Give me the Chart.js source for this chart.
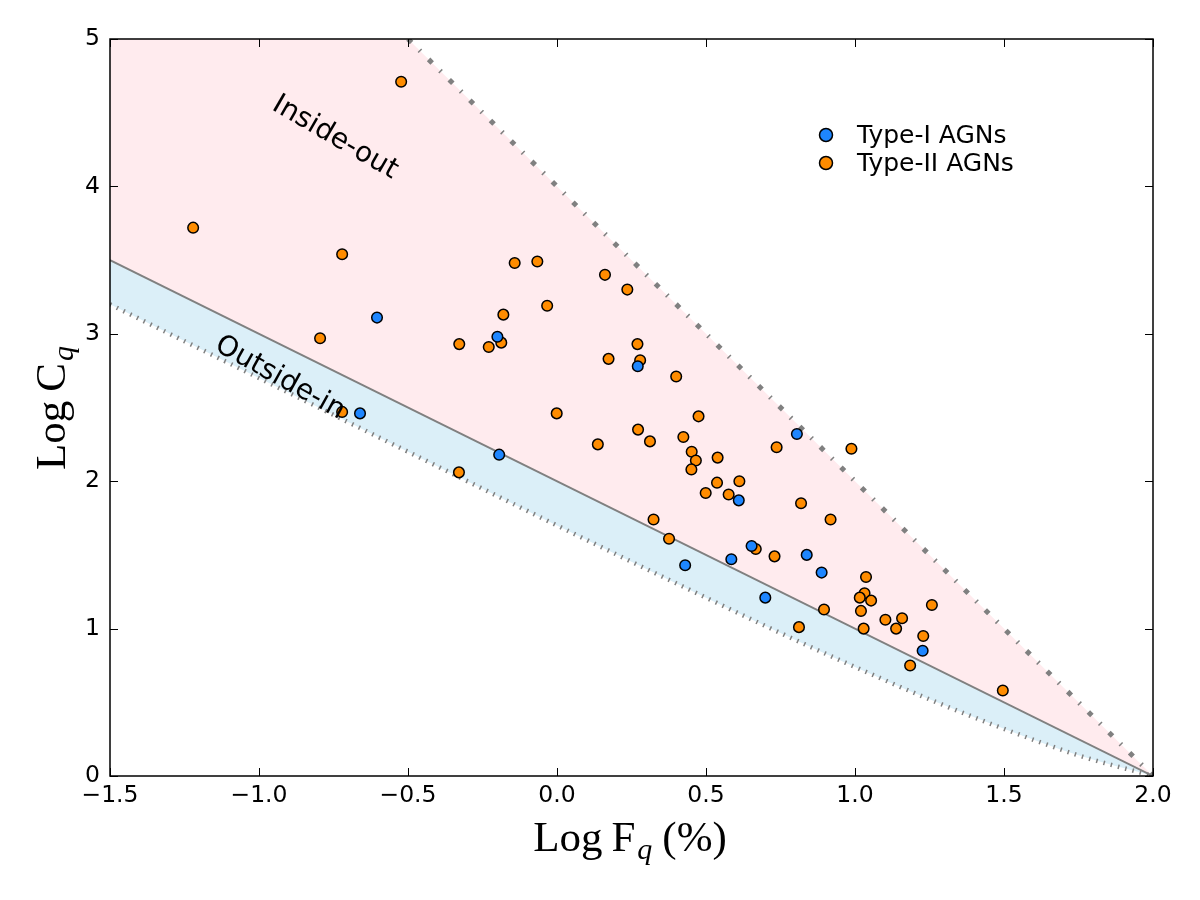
<!DOCTYPE html>
<html>
<head>
<meta charset="utf-8">
<script src="https://cdn.jsdelivr.net/npm/chart.js@4.4.1/dist/chart.umd.min.js"></script>
<style>
  html, body { margin: 0; padding: 0; background: #fff; }
</style>
</head>
<body>
<canvas id="agn_chart" width="1200" height="900"></canvas>
<script>
// Type-I AGNs
const typeI_logF = [-0.604, -0.661, -0.200, 0.271, -0.194, 0.610, 0.430, 0.585, 0.805, 0.653, 0.838, 0.888, 0.699, 1.227];
const typeI_logC = [3.11, 2.46, 2.98, 2.78, 2.18, 1.87, 1.43, 1.47, 2.32, 1.56, 1.50, 1.38, 1.21, 0.85];

// Type-II AGNs
const typeII_logF = [-0.523, -1.221, -0.721, -0.795, -0.721, -0.329, -0.328, -0.142, -0.066, 0.161,
  0.236, -0.033, -0.180, -0.187, -0.229, 0.270, 0.173, 0.279, 0.400, -0.001,
  0.475, 0.272, 0.312, 0.137, 0.424, 0.452, 0.539, 0.466, 0.451, 0.537,
  0.499, 0.576, 0.612, 0.324, 0.376, 0.737, 0.988, 0.819, 0.918, 0.667,
  0.730, 1.037, 1.032, 1.016, 1.054, 0.896, 1.020, 1.258, 1.102, 1.158,
  1.138, 1.029, 0.812, 1.229, 1.185, 1.496];
const typeII_logC = [4.71, 3.72, 3.54, 2.97, 2.47, 2.06, 2.93, 3.48, 3.49, 3.40,
  3.30, 3.19, 3.13, 2.94, 2.91, 2.93, 2.83, 2.82, 2.71, 2.46,
  2.44, 2.35, 2.27, 2.25, 2.30, 2.20, 2.16, 2.14, 2.08, 1.99,
  1.92, 1.91, 2.00, 1.74, 1.61, 2.23, 2.22, 1.85, 1.74, 1.54,
  1.49, 1.35, 1.24, 1.21, 1.19, 1.13, 1.12, 1.16, 1.06, 1.07,
  1.00, 1.00, 1.01, 0.95, 0.75, 0.58];

// boundary lines
const solid_logF = [-1.5, 2.0];
const solid_logC = [3.5, 0.0];
const dashdot_logF = [-0.5, 2.0];
const dashdot_logC = [5.0, 0.0];
const dotted_logF = [-1.5, -1.0, -0.5, 0.0, 0.5, 0.75, 1.0, 1.25, 1.5, 1.75, 2.0];
const dotted_logC = [3.20, 2.70, 2.20, 1.70, 1.21, 0.97, 0.74, 0.52, 0.32, 0.14, 0.0];
const top_logF = [-1.5, -0.5, 2.0];
const top_logC = [5.0, 5.0, 0.0];

const xTicks = [-1.5, -1.0, -0.5, 0.0, 0.5, 1.0, 1.5, 2.0];
const yTicks = [0, 1, 2, 3, 4, 5];

const legendLabels = ['Type-I AGNs', 'Type-II AGNs'];
const blue = '#1e86ff';
const orange = '#ff8c00';

function pts(xs, ys) {
  return xs.map((v, i) => ({ x: v, y: ys[i] }));
}

function fmt(v, digits) {
  return v.toFixed(digits).replace('-', '\u2212');
}

// draw a run of text pieces, e.g. Log C_q
function drawRich(ctx, parts, x, y, align) {
  let total = 0;
  parts.forEach(p => { ctx.font = p.font; total += ctx.measureText(p.text).width + (p.gap || 0); });
  let cx = align === 'center' ? x - total / 2 : x;
  parts.forEach(p => {
    ctx.font = p.font;
    ctx.fillText(p.text, cx, y + (p.dy || 0));
    cx += ctx.measureText(p.text).width + (p.gap || 0);
  });
}

const framePlugin = {
  id: 'framePlugin',
  afterDatasetsDraw(chart) {
    const { ctx, chartArea: a, scales: { x, y } } = chart;
    ctx.save();

    // region labels
    ctx.fillStyle = '#000';
    ctx.font = '28px "DejaVu Sans"';
    ctx.textAlign = 'center';
    ctx.textBaseline = 'middle';
    ctx.save();
    ctx.translate(x.getPixelForValue(-0.745), y.getPixelForValue(4.33));
    ctx.rotate(30 * Math.PI / 180);
    ctx.fillText('Inside-out', 0, 0);
    ctx.restore();
    ctx.save();
    ctx.translate(x.getPixelForValue(-0.93), y.getPixelForValue(2.70));
    ctx.rotate(29 * Math.PI / 180);
    ctx.fillText('Outside-in', 0, 0);
    ctx.restore();

    // frame
    ctx.strokeStyle = '#000';
    ctx.lineWidth = 1.5;
    ctx.strokeRect(a.left, a.top, a.right - a.left, a.bottom - a.top);

    // inward ticks on all sides
    ctx.lineWidth = 1;
    ctx.beginPath();
    xTicks.forEach(v => {
      const px = Math.round(x.getPixelForValue(v)) + 0.5;
      ctx.moveTo(px, a.bottom); ctx.lineTo(px, a.bottom - 8);
      ctx.moveTo(px, a.top); ctx.lineTo(px, a.top + 8);
    });
    yTicks.forEach(v => {
      const py = Math.round(y.getPixelForValue(v)) + 0.5;
      ctx.moveTo(a.left, py); ctx.lineTo(a.left + 8, py);
      ctx.moveTo(a.right, py); ctx.lineTo(a.right - 8, py);
    });
    ctx.stroke();

    // legend
    const items = [[blue, 135], [orange, 163]];
    ctx.textAlign = 'left';
    ctx.font = '25px "DejaVu Sans"';
    items.forEach((it, i) => {
      ctx.beginPath();
      ctx.arc(826, it[1], 6.5, 0, Math.PI * 2);
      ctx.fillStyle = it[0];
      ctx.fill();
      ctx.lineWidth = 1.5;
      ctx.strokeStyle = '#000';
      ctx.stroke();
      ctx.fillStyle = '#000';
      ctx.fillText(legendLabels[i], 857, it[1] + 1);
    });

    // axis titles
    const big = '43px "Liberation Serif"';
    const sub = 'italic 30px "Liberation Serif"';
    ctx.textBaseline = 'alphabetic';
    drawRich(ctx, [
      { text: 'Log', font: big, gap: 9 },
      { text: 'F', font: big, gap: 2 },
      { text: 'q', font: sub, dy: 8, gap: 10 },
      { text: '(%)', font: big }
    ], 630, 851, 'center');

    ctx.save();
    ctx.translate(65, 408);
    ctx.rotate(-Math.PI / 2);
    drawRich(ctx, [
      { text: 'Log', font: big, gap: 9 },
      { text: 'C', font: big, gap: 2 },
      { text: 'q', font: sub, dy: 8 }
    ], 0, 0, 'center');
    ctx.restore();

    ctx.restore();
  }
};

const ctx = document.getElementById('agn_chart').getContext('2d');
const agn_chart = new Chart(ctx, {
  type: 'line',
  data: {
    datasets: [
      {
        label: legendLabels[0],
        data: pts(typeI_logF, typeI_logC),
        showLine: false,
        pointRadius: 5.3,
        pointBackgroundColor: blue,
        pointBorderColor: '#000',
        pointBorderWidth: 1.5
      },
      {
        label: legendLabels[1],
        data: pts(typeII_logF, typeII_logC),
        showLine: false,
        pointRadius: 5.3,
        pointBackgroundColor: orange,
        pointBorderColor: '#000',
        pointBorderWidth: 1.5
      },
      {
        label: 'dash-dot',
        data: pts(dashdot_logF, dashdot_logC),
        borderColor: '#808080',
        borderWidth: 5,
        borderDash: [5, 11, 1.5, 11.5],
        pointRadius: 0,
        fill: false
      },
      {
        label: 'solid',
        data: pts(solid_logF, solid_logC),
        borderColor: '#808080',
        borderWidth: 2,
        pointRadius: 0,
        fill: false
      },
      {
        label: 'dotted',
        data: pts(dotted_logF, dotted_logC),
        borderColor: '#808080',
        borderWidth: 4.5,
        borderDash: [1.5, 6],
        cubicInterpolationMode: 'monotone',
        pointRadius: 0,
        backgroundColor: '#dbeff8',
        fill: 3
      },
      {
        label: 'top',
        data: pts(top_logF, top_logC),
        borderWidth: 0,
        borderColor: 'rgba(0,0,0,0)',
        pointRadius: 0,
        backgroundColor: '#ffebee',
        fill: 3
      }
    ]
  },
  options: {
    responsive: false,
    animation: false,
    events: [],
    layout: { padding: { top: 39, right: 47, left: 0, bottom: 0 } },
    plugins: {
      legend: { display: false },
      tooltip: { enabled: false }
    },
    scales: {
      x: {
        type: 'linear',
        min: -1.5,
        max: 2.0,
        afterBuildTicks: s => { s.ticks = xTicks.map(v => ({ value: v })); },
        afterFit: s => { s.height = 124; },
        grid: { display: false, drawTicks: false },
        border: { display: false },
        ticks: {
          padding: 6,
          color: '#000',
          font: { family: 'DejaVu Sans', size: 23.5 },
          maxRotation: 0,
          callback: v => fmt(v, 1)
        }
      },
      y: {
        type: 'linear',
        min: 0,
        max: 5,
        afterBuildTicks: s => { s.ticks = yTicks.map(v => ({ value: v })); },
        afterFit: s => { s.width = 110; },
        grid: { display: false, drawTicks: false },
        border: { display: false },
        ticks: {
          padding: 10,
          color: '#000',
          font: { family: 'DejaVu Sans', size: 23.5 },
          callback: v => fmt(v, 0)
        }
      }
    }
  },
  plugins: [framePlugin]
});
</script>
</body>
</html>
